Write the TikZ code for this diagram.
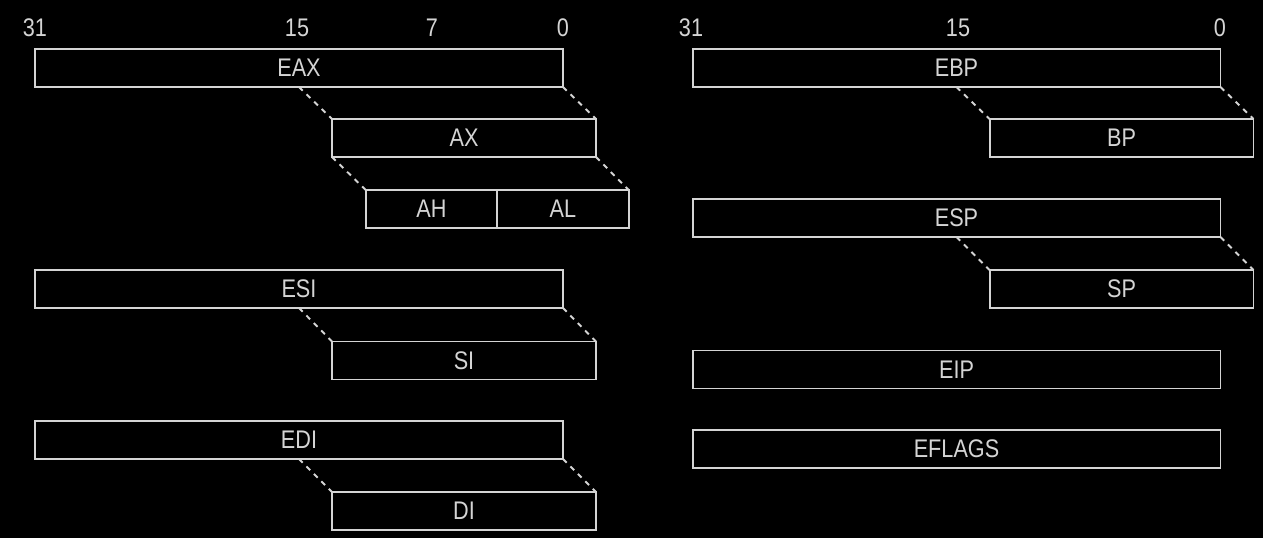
\documentclass[tikz,border=0pt]{standalone}
\usepackage{fontspec}
\setmainfont{Liberation Sans}[FakeStretch=0.85]
\usetikzlibrary{positioning}
\definecolor{linegray}{HTML}{D4D4D4}
\tikzset{
  reg/.style={draw=linegray,line width=1.1pt,inner sep=0pt,outer sep=0pt,
    minimum height=0.76cm,text=linegray,font=\fontsize{14.5}{16}\selectfont},
  r32/.style={reg,minimum width=10.56cm},
  r16/.style={reg,minimum width=5.28cm},
  r8/.style={reg,minimum width=2.63cm},
  bit/.style={text=linegray,font=\fontsize{14.5}{16}\selectfont},
  split/.style={draw=linegray,line width=1.1pt,dash pattern=on 3pt off 3pt}
}
\begin{document}
\begin{tikzpicture}[x=0.02cm,y=-0.02cm]
  \fill[black] (0,0) rectangle (1263,538);
  \useasboundingbox (0,0) rectangle (1263,538);
  % bit numbers
  \node[bit] (l31) at (35,28) {31};
  \node[bit] (l15) at (297,28) {15};
  \node[bit] (l7) at (432,28) {7};
  \node[bit] (l0) at (563,28) {0};
  \node[bit] (r31) at (691,28) {31};
  \node[bit] (r15) at (958,28) {15};
  \node[bit] (r0) at (1220,28) {0};
  % left column
  \node[r32] (eax) at (299,68) {EAX};
  \node[r16] (ax) at (464,138) {AX};
  \node[r8] (ah) at (431.5,209) {AH};
  \node[r8,right=0pt of ah] (al) {AL};
  \node[r32] (esi) at (299,289) {ESI};
  \node[r16] (si) at (464,360.5) {SI};
  \node[r32] (edi) at (299,440) {EDI};
  \node[r16] (di) at (464,511) {DI};
  % right column
  \node[r32] (ebp) at (956.5,68) {EBP};
  \node[r16] (bp) at (1121.5,138) {BP};
  \node[r32] (esp) at (956.5,218) {ESP};
  \node[r16] (sp) at (1121.5,289) {SP};
  \node[r32] (eip) at (956.5,369.5) {EIP};
  \node[r32] (eflags) at (956.5,449) {EFLAGS};
  % low halves
  \draw[split] (eax.south) -- (ax.north west);
  \draw[split] (eax.south east) -- (ax.north east);
  \draw[split] (ax.south west) -- (ah.north west);
  \draw[split] (ax.south east) -- (al.north east);
  \draw[split] (esi.south) -- (si.north west);
  \draw[split] (esi.south east) -- (si.north east);
  \draw[split] (edi.south) -- (di.north west);
  \draw[split] (edi.south east) -- (di.north east);
  \draw[split] (ebp.south) -- (bp.north west);
  \draw[split] (ebp.south east) -- (bp.north east);
  \draw[split] (esp.south) -- (sp.north west);
  \draw[split] (esp.south east) -- (sp.north east);
\end{tikzpicture}
\end{document}
